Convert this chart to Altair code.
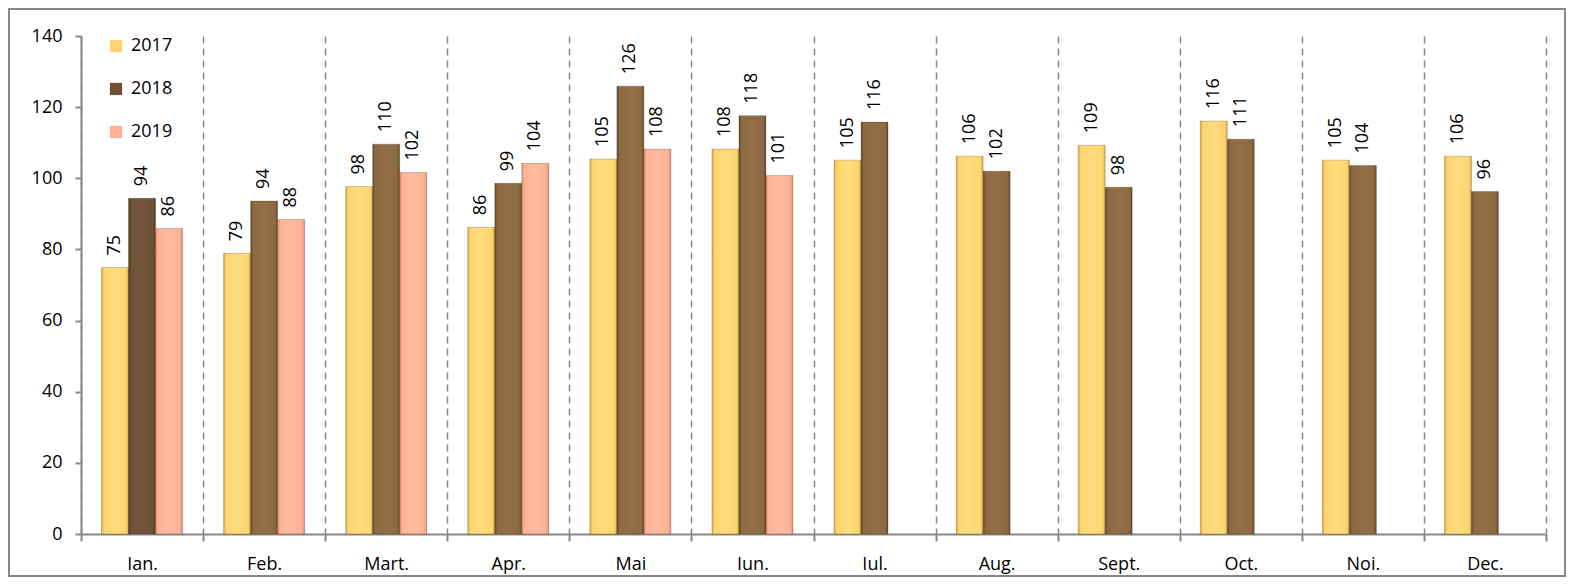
import altair as alt
import pandas as pd

months = ["Ian.", "Feb.", "Mart.", "Apr.", "Mai", "Iun.", "Iul.", "Aug.", "Sept.", "Oct.", "Noi.", "Dec."]
years = ["2017", "2018", "2019"]
v2017 = [74.9, 78.9, 97.7, 86.2, 105.4, 108.2, 105.1, 106.2, 109.3, 116.1, 105.1, 106.2]
v2018 = [94.4, 93.6, 109.6, 98.6, 125.9, 117.6, 115.8, 102.0, 97.5, 111.0, 103.6, 96.3]
v2019 = [85.9, 88.4, 101.6, 104.2, 108.2, 100.8]
y_ticks = [0, 20, 40, 60, 80, 100, 120, 140]

rows = []
for yr, vals in zip(years, [v2017, v2018, v2019]):
    for m, v in zip(months, vals):
        rows.append({"month": m, "year": yr, "value": v})
df = pd.DataFrame(rows)

FONT = "Open Sans"
W, H = 1465, 498
GRAY = "#878787"


def bevel(edge, base, light):
    return {"gradient": "linear", "x1": 0, "y1": 0, "x2": 1, "y2": 0,
            "stops": [{"offset": 0, "color": edge},
                      {"offset": 0.1, "color": base},
                      {"offset": 0.5, "color": light},
                      {"offset": 0.9, "color": base},
                      {"offset": 1, "color": edge}]}


x_enc = alt.X("month:N", sort=months, title=None,
              scale=alt.Scale(paddingInner=0, paddingOuter=0),
              axis=alt.Axis(labelAngle=0, tickBand="extent", grid=True,
                            gridDash=[7, 5], gridColor=GRAY, gridWidth=1.5,
                            domainColor=GRAY, domainWidth=2, tickColor=GRAY,
                            tickWidth=2, tickSize=7, labelPadding=14,
                            labelFont=FONT, labelFontSize=18, labelColor="#000"))
xoff = alt.XOffset("year:N", sort=years, scale=alt.Scale(domain=years, paddingInner=0, paddingOuter=0.76))
y_enc = alt.Y("value:Q", title=None,
              scale=alt.Scale(domain=[0, 140], nice=False),
              axis=alt.Axis(values=y_ticks, grid=False, domainColor=GRAY, domainWidth=2,
                            tickColor=GRAY, tickWidth=2, tickSize=6, labelPadding=13,
                            labelFont=FONT, labelFontSize=18, labelColor="#000"))

color_scale = alt.Scale(domain=years, range=["#FFD56F", "#6E5233", "#FFB294"])

fill_def = {
    "condition": [
        {"test": "datum.year == '2017'", "value": bevel("#D9A944", "#FFD56F", "#FFDC7E")},
        {"test": "datum.year == '2018' && datum.month == 'Ian.'", "value": bevel("#4E3820", "#6E5233", "#74573A")},
        {"test": "datum.year == '2018'", "value": bevel("#654A2A", "#8C6A42", "#926F47")},
        {"test": "datum.year == '2019'", "value": bevel("#D98C6E", "#FFB294", "#FFBB9F")},
    ],
    "field": "year", "type": "nominal", "scale": color_scale, "title": None,
    "legend": {"orient": "none", "legendX": 26, "legendY": 1,
               "symbolType": "square", "symbolSize": 150, "symbolStrokeWidth": 0,
               "rowPadding": 25, "labelFont": FONT, "labelFontSize": 18,
               "labelColor": "#000", "labelOffset": 6},
}

bars = alt.Chart(df).mark_bar(stroke="#00000030", strokeWidth=1).encode(
    x=x_enc, xOffset=xoff, y=y_enc, fill=fill_def,
)

labels = alt.Chart(df).mark_text(angle=270, align="left", baseline="middle",
                                 dx=12, font=FONT, fontSize=18, color="#000").encode(
    x=alt.X("month:N", sort=months), xOffset=alt.XOffset("year:N", sort=years),
    y=alt.Y("value:Q"),
    text=alt.Text("value:Q", format=".0f"),
)

border = alt.Chart(pd.DataFrame({"a": [0]})).mark_rect(
    fill="transparent", stroke=GRAY, strokeWidth=2
).encode(x=alt.value(-72), x2=alt.value(1484), y=alt.value(-27), y2=alt.value(540))

chart = alt.layer(bars, labels, border).properties(
    width=W, height=H,
    padding={"left": 73, "top": 28, "right": 20, "bottom": 43},
    autosize=alt.AutoSizeParams(type="none"),
).configure_view(stroke=None)

chart.save("out.html", embed_options={"renderer": "svg", "actions": False})
